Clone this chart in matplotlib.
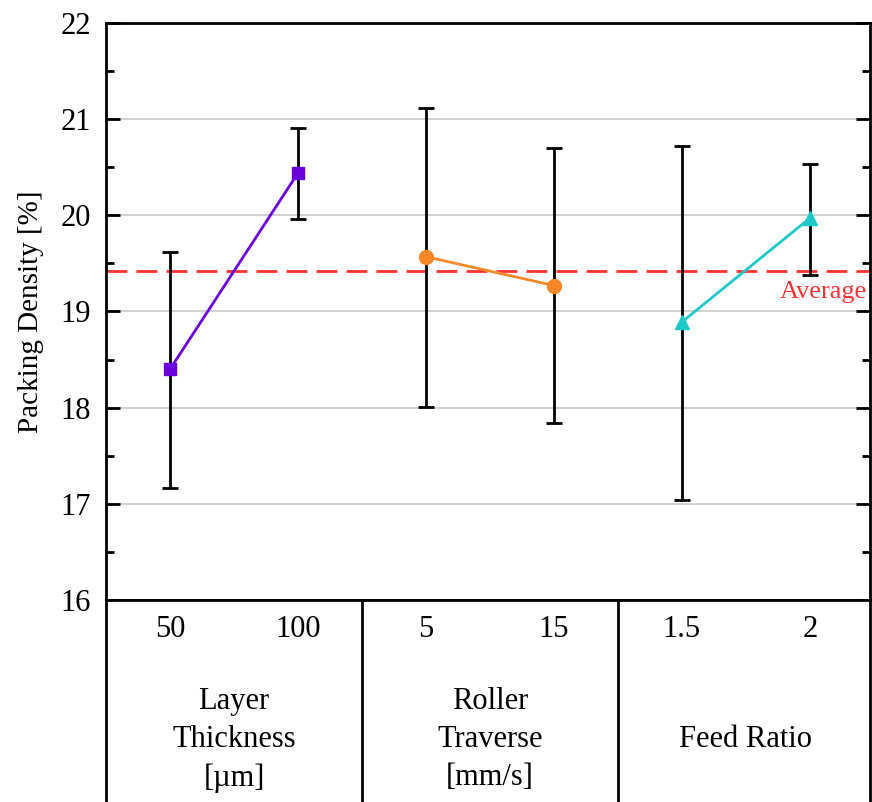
import matplotlib
matplotlib.use("Agg")
import matplotlib.pyplot as plt
import numpy as np

plt.rcParams['font.family'] = ['Liberation Serif', 'DejaVu Serif']

# data
levels = ["50", "100", "5", "15", "1.5", "2"]
groups = ["Layer\nThickness\n[\u00b5m]", "Roller\nTraverse\n[mm/s]", "Feed Ratio"]
means = [18.40, 20.44, 19.57, 19.27, 18.89, 19.97]
err_hi = [19.62, 20.91, 21.12, 20.70, 20.72, 20.53]
err_lo = [17.16, 19.96, 18.01, 17.84, 17.04, 19.38]
average = 19.42

colors = ["#6a00dc", "#f5892a", "#1ec8c8"]
markers = ["s", "o", "^"]
msizes = [9, 10, 10]

fig = plt.figure(figsize=(8.72, 8.02), dpi=100)
ax = fig.add_axes([0.1216, 0.2519, 0.876, 0.7194])
tb = fig.add_axes([0.1216, -0.01, 0.876, 0.2619])

x = np.arange(len(levels))
means = np.array(means)
lo = means - np.array(err_lo)
hi = np.array(err_hi) - means

for y in range(17, 22):
    ax.axhline(y, color="#c8c8c8", lw=1.2, zorder=0)

ax.axhline(average, color="#ff3333", lw=2, ls=(0, (7.5, 3.3)), zorder=1)
ax.text(5.45, average - 0.1, "Average", color="#ff3333", fontsize=19,
        ha="right", va="top")

ax.errorbar(x, means, yerr=[lo, hi], fmt="none", ecolor="black",
            elinewidth=2, capsize=6, capthick=2, zorder=2)
for g in range(3):
    i = [2 * g, 2 * g + 1]
    ax.plot(x[i], means[i], color=colors[g], marker=markers[g],
            ms=msizes[g], lw=2, zorder=3)

ax.set_xlim(-0.5, 5.47)
ax.set_ylim(16, 22)
ax.set_yticks(range(16, 23))
ax.set_yticks(np.arange(16.5, 22, 1), minor=True)
ax.set_xticks([])
ax.tick_params(axis="y", which="major", direction="in", length=10, width=2,
               right=True, labelsize=22, pad=11)
ax.tick_params(axis="y", which="minor", direction="in", length=5.5, width=2,
               right=True)
for s in ax.spines.values():
    s.set_linewidth(2)
ax.set_ylabel("Packing Density [%]", fontsize=21, labelpad=12)

# table below
tb.set_xlim(-0.5, 5.47)
tb.set_ylim(0, 1)
tb.set_xticks([])
tb.set_yticks([])
tb.spines["bottom"].set_visible(False)
for s in tb.spines.values():
    s.set_linewidth(2)
for d in [1.5, 3.5]:
    tb.axvline(d, color="black", lw=2)
for i, lab in enumerate(levels):
    tb.text(x[i], 0.86, lab, fontsize=22, ha="center", va="center")
for g, lab in enumerate(groups):
    tb.text(2 * g + 0.5, 0.335, lab, fontsize=22, ha="center", va="center",
            linespacing=1.42)

fig.savefig("out.png", dpi=100)
